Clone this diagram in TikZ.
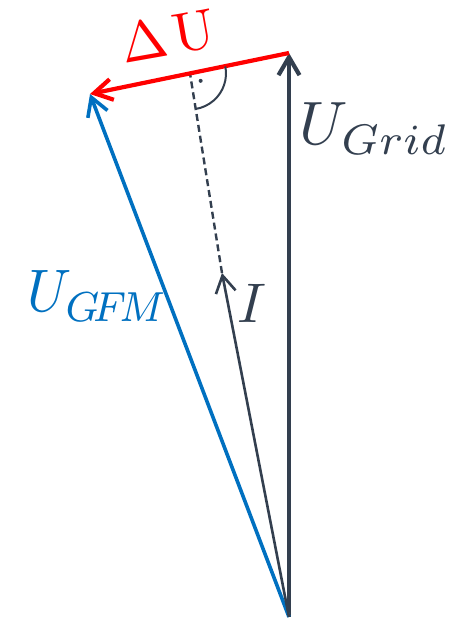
\documentclass[tikz,border=0pt]{standalone}
\usetikzlibrary{arrows.meta}
\definecolor{phasorGray}{HTML}{333F4F}
\definecolor{phasorBlue}{HTML}{0070C0}
\definecolor{phasorRed}{HTML}{FF0000}
\tikzset{
  phasor/.style={line width=4.2pt,-{Straight Barb[length=18pt,width=21pt]}},
  thinphasor/.style={line width=2.6pt,-{Straight Barb[length=17pt,width=20pt]}},
  biglabel/.style={inner sep=0pt,anchor=base west,scale=6},
}

\begin{document}
\begin{tikzpicture}[x=1pt,y=1pt]
\useasboundingbox (0,0) rectangle (466,622);
% points of the phasor diagram
\coordinate (O) at (289,5);
\coordinate (G) at (289,569);
\coordinate (F) at (90,528);
\coordinate (P) at (222,349);
\coordinate (Q) at (190,548.6);
% phasors
\draw[phasor,phasorGray] (O) -- (G);
\draw[phasor,phasorBlue,line width=3.6pt] (O) -- (F);
\draw[thinphasor,phasorGray] (O) -- (P);
\draw[phasorGray,line width=2.4pt,dash pattern=on 7pt off 4pt] (P) -- (Q);
\draw[phasor,phasorRed] (G) -- (F);
% right angle
\draw[phasorGray,line width=2pt] ([shift={(11.1:36)}]Q) arc[start angle=11.1,end angle=-80.9,radius=36];
\fill[phasorGray] ([shift={(-34.9:13)}]Q) circle (2);
% labels
\node[biglabel,text=phasorGray,scale=1.02] (lgrid) at (298,477) {$U_{Grid}$};
\node[biglabel,text=phasorBlue,xscale=0.93] (lgfm) at (26,310) {$U_{G\!F\!M}$};
\node[biglabel,text=phasorGray,scale=0.93] (li) at (236,299) {$I$};
\node[inner sep=0pt,text=phasorRed,rotate=10,scale=5.6] (ldu) at (168,586) {$\Delta\mkern2mu\mathrm{U}$};
\end{tikzpicture}
\end{document}
